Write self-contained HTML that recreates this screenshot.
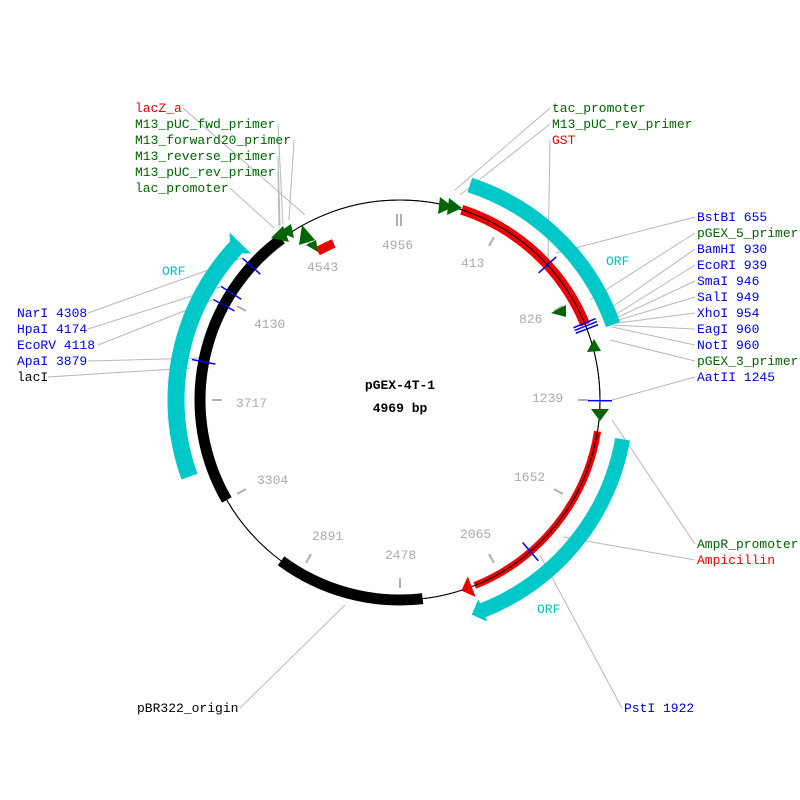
<!DOCTYPE html>
<html><head><meta charset="utf-8"><style>
html,body{margin:0;padding:0;background:#fff}
svg{display:block}
text{font-family:"Liberation Mono","DejaVu Sans Mono",monospace;font-size:13px}
.g{fill:#aaaaaa}.b{fill:#0000dd}.gr{fill:#006400}.r{fill:#ee0000}.k{fill:#000}.c{fill:#00c0c0}
.l{stroke:#b8b8b8;stroke-width:1;fill:none}
</style></head><body>
<svg width="800" height="800" viewBox="0 0 800 800" xmlns="http://www.w3.org/2000/svg">
<rect width="800" height="800" fill="#fff"/>
<g class="l">
<polyline points="183,108 305,215"/>
<polyline points="278,124 283,225"/>
<polyline points="294,140 289,220"/>
<polyline points="278,156 280,225"/>
<polyline points="278,172 279,228"/>
<polyline points="230,188 274,228"/>
<polyline points="550,108 455,190"/>
<polyline points="550,124 460,195"/>
<polyline points="550,140 548,260"/>
<polyline points="695,217 556,253"/>
<polyline points="695,233 590,300"/>
<polyline points="695,249 605,312"/>
<polyline points="695,265 610,318"/>
<polyline points="695,281 612,320"/>
<polyline points="695,297 612,322"/>
<polyline points="695,313 610,324"/>
<polyline points="695,329 610,325"/>
<polyline points="695,345 612,327"/>
<polyline points="695,361 610,340"/>
<polyline points="695,377 612,400"/>
<polyline points="695,544 612,420"/>
<polyline points="695,560 563,537"/>
<polyline points="622,708 540,555"/>
<polyline points="240,708 345,605"/>
<polyline points="88,313 242,258"/>
<polyline points="88,329 220,287"/>
<polyline points="98,345 212,300"/>
<polyline points="88,361 202,358"/>
<polyline points="48,377 190,368"/>
</g>
<g transform="translate(400,400)" fill="none">
<circle r="200" stroke="#000" stroke-width="1"/>
<circle r="226" stroke="#00c8c8" stroke-width="15" stroke-dasharray="207 9999" transform="rotate(-72)"/>
<circle r="226" stroke="#00c8c8" stroke-width="15" stroke-dasharray="232 9999" transform="rotate(10)"/>
<circle r="224" stroke="#00c8c8" stroke-width="17" stroke-dasharray="250 9999" transform="rotate(160)"/>
<circle r="200" stroke="#ee0000" stroke-width="10" stroke-dasharray="174 9999" transform="rotate(-72)"/>
<circle r="200" stroke="#ee0000" stroke-width="7" stroke-dasharray="206 9999" transform="rotate(9)"/>
<circle r="170" stroke="#ee0000" stroke-width="9" stroke-dasharray="18 9999" transform="rotate(241)"/>
<circle r="200" stroke="#000" stroke-width="1"/>
<circle r="200" stroke="#000" stroke-width="11" stroke-dasharray="292 9999" transform="rotate(150)"/>
<circle r="200" stroke="#000" stroke-width="11" stroke-dasharray="150 9999" transform="rotate(83.5)"/>
<g transform="rotate(159)"><polygon points="0,-211 0,-189 11,-200" fill="#ee0000"/></g>
<g transform="rotate(158.5)"><polygon points="0,-238 0,-214 12,-226" fill="#00c8c8"/></g>
<g transform="rotate(224)"><polygon points="0,-239 0,-209 -14,-224" fill="#00c8c8" transform="rotate(90.5)"/></g>
<g stroke="#b0b0b0" stroke-width="2">
<g transform="rotate(30)"><line x1="0" y1="-178" x2="0" y2="-188"/></g>
<g transform="rotate(60)"><line x1="0" y1="-178" x2="0" y2="-188"/></g>
<g transform="rotate(90)"><line x1="0" y1="-178" x2="0" y2="-188"/></g>
<g transform="rotate(120)"><line x1="0" y1="-178" x2="0" y2="-188"/></g>
<g transform="rotate(150)"><line x1="0" y1="-178" x2="0" y2="-188"/></g>
<g transform="rotate(180)"><line x1="0" y1="-178" x2="0" y2="-188"/></g>
<g transform="rotate(210)"><line x1="0" y1="-178" x2="0" y2="-188"/></g>
<g transform="rotate(240)"><line x1="0" y1="-178" x2="0" y2="-188"/></g>
<g transform="rotate(270)"><line x1="0" y1="-178" x2="0" y2="-188"/></g>
<g transform="rotate(300)"><line x1="0" y1="-178" x2="0" y2="-188"/></g>
<g transform="rotate(330)"><line x1="0" y1="-178" x2="0" y2="-188"/></g>
<line x1="-3" y1="-174" x2="-3" y2="-186"/><line x1="1" y1="-174" x2="1" y2="-186"/>
</g>
<g stroke="#0000ee" stroke-width="1.5">
<g transform="rotate(47.5)"><line x1="0" y1="-188" x2="0" y2="-212"/></g>
<g transform="rotate(67.4)"><line x1="0" y1="-188" x2="0" y2="-212"/></g>
<g transform="rotate(68.3)"><line x1="0" y1="-188" x2="0" y2="-212"/></g>
<g transform="rotate(69.2)"><line x1="0" y1="-188" x2="0" y2="-212"/></g>
<g transform="rotate(90.2)"><line x1="0" y1="-188" x2="0" y2="-212"/></g>
<g transform="rotate(139.3)"><line x1="0" y1="-188" x2="0" y2="-212"/></g>
<g transform="rotate(312)"><line x1="0" y1="-188" x2="0" y2="-212"/></g>
<g transform="rotate(302.4)"><line x1="0" y1="-188" x2="0" y2="-212"/></g>
<g transform="rotate(298.3)"><line x1="0" y1="-188" x2="0" y2="-212"/></g>
<g transform="rotate(281)"><line x1="0" y1="-188" x2="0" y2="-212"/></g>
</g>
</g>
<g fill="#006400">
<polygon points="440,197 438,214 453,207"/>
<polygon points="449,198 447,215 462,208"/>
<polygon points="271,238 283,226 289,242"/>
<polygon points="279,232 291,224 294,238"/>
<polygon points="302,225 299,245 315,240"/>
<polygon points="306,245 316,240 318,252"/>
<polygon points="566,305 551,313 566,317"/>
<polygon points="594,339 587,352 601,351"/>
<polygon points="591,409 609,409 600,421"/>
</g>
<g class="g">
<text x="382" y="249">4956</text>
<text x="461" y="267">413</text>
<text x="519" y="323">826</text>
<text x="532" y="402">1239</text>
<text x="514" y="481">1652</text>
<text x="460" y="538">2065</text>
<text x="385" y="559">2478</text>
<text x="312" y="540">2891</text>
<text x="257" y="484">3304</text>
<text x="236" y="407">3717</text>
<text x="254" y="328">4130</text>
<text x="307" y="271">4543</text>
</g>
<text class="c" x="162" y="275">ORF</text>
<text class="c" x="606" y="265">ORF</text>
<text class="c" x="537" y="613">ORF</text>
<text class="k" x="400" y="389" text-anchor="middle" font-weight="bold">pGEX-4T-1</text>
<text class="k" x="400" y="412" text-anchor="middle" font-weight="bold">4969 bp</text>
<text class="r" x="135" y="112">lacZ_a</text>
<text class="gr" x="135" y="128">M13_pUC_fwd_primer</text>
<text class="gr" x="135" y="144">M13_forward20_primer</text>
<text class="gr" x="135" y="160">M13_reverse_primer</text>
<text class="gr" x="135" y="176">M13_pUC_rev_primer</text>
<text class="gr" x="135" y="192">lac_promoter</text>
<text class="gr" x="552" y="112">tac_promoter</text>
<text class="gr" x="552" y="128">M13_pUC_rev_primer</text>
<text class="r" x="552" y="144">GST</text>
<text class="b" x="697" y="221">BstBI 655</text>
<text class="gr" x="697" y="237">pGEX_5_primer</text>
<text class="b" x="697" y="253">BamHI 930</text>
<text class="b" x="697" y="269">EcoRI 939</text>
<text class="b" x="697" y="285">SmaI 946</text>
<text class="b" x="697" y="301">SalI 949</text>
<text class="b" x="697" y="317">XhoI 954</text>
<text class="b" x="697" y="333">EagI 960</text>
<text class="b" x="697" y="349">NotI 960</text>
<text class="gr" x="697" y="365">pGEX_3_primer</text>
<text class="b" x="697" y="381">AatII 1245</text>
<text class="gr" x="697" y="548">AmpR_promoter</text>
<text class="r" x="697" y="564">Ampicillin</text>
<text class="b" x="624" y="712">PstI 1922</text>
<text class="k" x="137" y="712">pBR322_origin</text>
<text class="b" x="17" y="317">NarI 4308</text>
<text class="b" x="17" y="333">HpaI 4174</text>
<text class="b" x="17" y="349">EcoRV 4118</text>
<text class="b" x="17" y="365">ApaI 3879</text>
<text class="k" x="17" y="381">lacI</text>
</svg>
</body></html>
